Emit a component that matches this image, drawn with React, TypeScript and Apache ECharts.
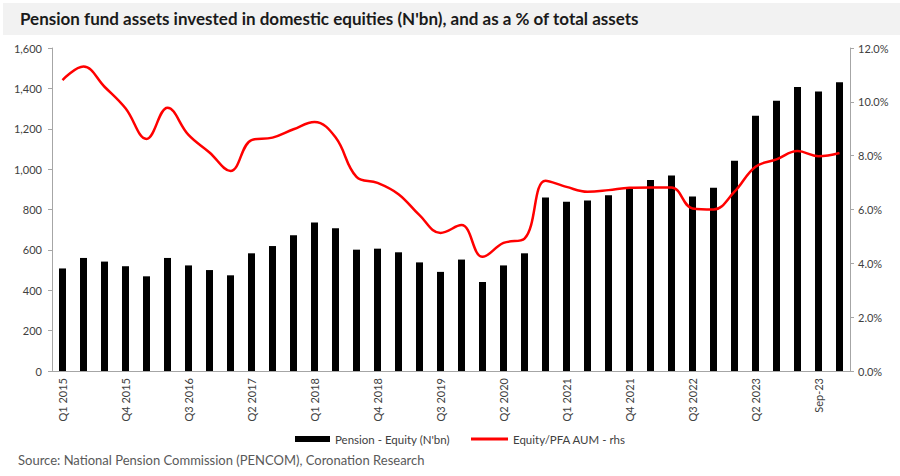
import React, { useEffect, useRef } from 'react';
import * as echarts from 'echarts';

const COLORS = {
  TEXT: '#404040',
  AXIS: '#a6a6a6',
  BAR: '#000000',
  LINE: '#ff0000',
  BAND: '#f2f2f2',
  SOURCE: '#595959',
};

const FONT = 'Lato, "Noto Sans", sans-serif';

const quarters = [
  'Q1 2015', 'Q2 2015', 'Q3 2015', 'Q4 2015',
  'Q1 2016', 'Q2 2016', 'Q3 2016', 'Q4 2016',
  'Q1 2017', 'Q2 2017', 'Q3 2017', 'Q4 2017',
  'Q1 2018', 'Q2 2018', 'Q3 2018', 'Q4 2018',
  'Q1 2019', 'Q2 2019', 'Q3 2019', 'Q4 2019',
  'Q1 2020', 'Q2 2020', 'Q3 2020', 'Q4 2020',
  'Q1 2021', 'Q2 2021', 'Q3 2021', 'Q4 2021',
  'Q1 2022', 'Q2 2022', 'Q3 2022', 'Q4 2022',
  'Q1 2023', 'Q2 2023', 'Q3 2023', 'Q4 2023',
  'Sep-23', 'Dec-23',
];

// N'bn
const equityBn = [
  508, 560, 542, 519, 469, 560, 523, 500, 474, 583,
  619, 672, 735, 707, 601, 606, 588, 538, 491, 552,
  441, 523, 583, 859, 839, 844, 870, 906, 946, 968,
  865, 908, 1042, 1265, 1339, 1407, 1385, 1430,
];

// % of total PFA AUM
const equityPct = [
  10.81, 11.31, 10.56, 9.76, 8.62, 9.78, 8.77, 8.12, 7.43, 8.58,
  8.67, 8.98, 9.25, 8.68, 7.21, 6.99, 6.57, 5.79, 5.13, 5.42,
  4.24, 4.76, 4.92, 7.07, 6.84, 6.66, 6.72, 6.81, 6.82, 6.82,
  6.04, 6.0, 6.66, 7.59, 7.86, 8.17, 7.98, 8.1,
];

const BAR_NAME = "Pension - Equity (N'bn)";
const LINE_NAME = 'Equity/PFA AUM - rhs';
const TITLE = "Pension fund assets invested in domestic equities (N'bn), and as a % of total assets";
const SOURCE = 'Source: National Pension Commission (PENCOM), Coronation Research';

const App: React.FC = () => {
  const divEL = useRef<HTMLDivElement>(null);

  useEffect(() => {
    const instance = echarts.init(divEL.current as any, null, { renderer: 'svg' });

    const legendText = { color: COLORS.TEXT, fontSize: 11.5, fontFamily: FONT };

    const option: echarts.EChartsOption = {
      animation: false,
      backgroundColor: '#ffffff',
      textStyle: { fontFamily: FONT },
      graphic: [
        {
          type: 'rect',
          left: 3,
          top: 3,
          shape: { width: 897, height: 32 },
          style: { fill: COLORS.BAND },
          silent: true,
        },
        {
          type: 'text',
          left: 20,
          top: 10,
          style: {
            text: TITLE,
            fill: '#1a1a1a',
            font: `bold 17px ${FONT}`,
          },
        },
        {
          type: 'text',
          left: 18,
          top: 453,
          style: {
            text: SOURCE,
            fill: COLORS.SOURCE,
            font: `13px ${FONT}`,
          },
        },
      ],
      legend: [
        {
          left: 290,
          top: 428,
          itemWidth: 35,
          itemHeight: 6,
          textStyle: legendText,
          data: [{ name: BAR_NAME, icon: 'rect' }],
        },
        {
          left: 466,
          top: 428,
          itemWidth: 37,
          itemHeight: 3,
          textStyle: legendText,
          data: [{ name: LINE_NAME, icon: 'rect' }],
        },
      ],
      grid: {
        left: 52,
        right: 50,
        top: 48,
        bottom: 105,
      },
      xAxis: {
        type: 'category',
        data: quarters,
        boundaryGap: true,
        axisLine: { lineStyle: { color: COLORS.AXIS } },
        axisTick: { interval: 0, length: 3, lineStyle: { color: COLORS.AXIS } },
        axisLabel: {
          interval: 2,
          rotate: 90,
          color: COLORS.TEXT,
          fontSize: 11,
          margin: 7,
        },
      },
      yAxis: [
        {
          type: 'value',
          min: 0,
          max: 1600,
          interval: 200,
          position: 'left',
          axisLine: { show: true, lineStyle: { color: COLORS.AXIS } },
          axisTick: { show: true, length: 4, lineStyle: { color: COLORS.AXIS } },
          splitLine: { show: false },
          axisLabel: {
            color: COLORS.TEXT,
            fontSize: 11,
            margin: 10,
            formatter: (v: number) => v.toLocaleString('en-US'),
          },
        },
        {
          type: 'value',
          min: 0,
          max: 12,
          interval: 2,
          position: 'right',
          axisLine: { show: true, lineStyle: { color: COLORS.AXIS } },
          axisTick: { show: true, length: 4, lineStyle: { color: COLORS.AXIS } },
          splitLine: { show: false },
          axisLabel: {
            color: COLORS.TEXT,
            fontSize: 11,
            margin: 8,
            formatter: (v: number) => v.toFixed(1) + '%',
          },
        },
      ],
      series: [
        {
          name: BAR_NAME,
          type: 'bar',
          data: equityBn,
          barWidth: 7,
          itemStyle: { color: COLORS.BAR },
          yAxisIndex: 0,
        },
        {
          name: LINE_NAME,
          type: 'line',
          data: equityPct,
          yAxisIndex: 1,
          smooth: 0.4,
          symbol: 'none',
          lineStyle: { color: COLORS.LINE, width: 2.5 },
          itemStyle: { color: COLORS.LINE },
        },
      ],
    };

    instance.setOption(option);

    return () => {
      instance.dispose();
    };
  }, []);

  return (
    <div
      ref={divEL}
      style={{ position: 'fixed', left: 0, top: 0, width: 900, height: 476 }}
    ></div>
  );
};

export default App;
